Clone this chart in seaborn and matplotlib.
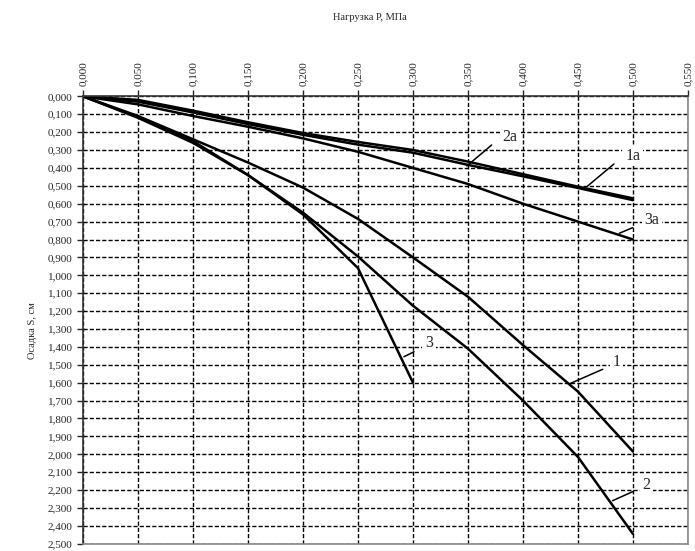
import numpy as np
import pandas as pd
import seaborn as sns
import matplotlib.pyplot as plt
from matplotlib.ticker import FuncFormatter, MultipleLocator

# нагрузка, МПа
p = [0.0, 0.05, 0.10, 0.15, 0.20, 0.25, 0.30, 0.35, 0.40, 0.45, 0.50]
# осадка, см
s1 = [0.0, 0.11, 0.24, 0.37, 0.51, 0.685, 0.90, 1.12, 1.39, 1.65, 1.985]
s2 = [0.0, 0.115, 0.25, 0.44, 0.65, 0.895, 1.17, 1.41, 1.70, 2.015, 2.445]
s3 = [0.0, 0.12, 0.26, 0.44, 0.66, 0.96, 1.60]
s1a = [0.0, 0.02, 0.08, 0.145, 0.205, 0.255, 0.30, 0.365, 0.435, 0.505, 0.57]
s2a = [0.0, 0.03, 0.09, 0.155, 0.215, 0.27, 0.315, 0.383, 0.447, 0.512, 0.58]
s3a = [0.0, 0.045, 0.11, 0.17, 0.235, 0.31, 0.40, 0.49, 0.60, 0.70, 0.80]

series = {"1": s1, "2": s2, "3": s3, "1a": s1a, "2a": s2a, "3a": s3a}
df = pd.concat([pd.DataFrame({"P": p[:len(v)], "S": v, "curve": k})
                for k, v in series.items()], ignore_index=True)

# подписи кривых: (текст, точка на кривой, начало выноски, положение текста)
labels = [
    ("1", (0.442, 1.607), (0.4725, 1.525), (0.485, 1.483)),
    ("2", (0.4815, 2.259), (0.4997, 2.209), (0.5124, 2.171)),
    ("3", (0.2918, 1.455), (0.301, 1.427), (0.3145, 1.38)),
    ("1a", (0.458, 0.505), (0.4827, 0.378), (0.4997, 0.332)),
    ("2a", (0.349, 0.389), (0.3715, 0.272), (0.388, 0.226)),
    ("3a", (0.4876, 0.765), (0.4997, 0.734), (0.517, 0.691)),
]

sns.set_style("white")
plt.rcParams['font.family'] = ['Liberation Serif', 'DejaVu Serif']

fig = plt.figure(figsize=(6.95, 5.51), dpi=100)
ax = fig.add_axes([0.1194, 0.0131, 0.9899 - 0.1194, 0.8252 - 0.0131])

sns.lineplot(data=df, x="P", y="S", units="curve", estimator=None, sort=False,
             color="black", linewidth=1.8, ax=ax)

for txt, pt, start, tpos in labels:
    ax.plot([pt[0], start[0]], [pt[1], start[1]], color="black", lw=1.1)
    ax.text(tpos[0], tpos[1], txt, fontsize=11.5, ha="center", va="center",
            bbox=dict(facecolor="white", edgecolor="none", pad=2))

ax.set_xlim(0, 0.55)
ax.set_ylim(2.5, 0)
ax.xaxis.set_major_locator(MultipleLocator(0.05))
ax.yaxis.set_major_locator(MultipleLocator(0.1))
fmt = FuncFormatter(lambda v, _: f"{v:.3f}".replace(".", ","))
ax.xaxis.set_major_formatter(fmt)
ax.yaxis.set_major_formatter(fmt)
ax.xaxis.tick_top()
ax.tick_params(axis="x", labelrotation=90, labelsize=8, length=4, width=1,
               direction="out", top=True, bottom=False)
ax.tick_params(axis="y", labelsize=8, length=4, width=1, direction="out", left=True)
ax.grid(True, color="black", linestyle=(0, (3, 1.5)), linewidth=1.0)
ax.set_axisbelow(True)
for side, sp in ax.spines.items():
    sp.set_color("#333333" if side in ("left", "top") else "#888888")
    sp.set_linewidth(1.2)
ax.set_xlabel("")
ax.set_ylabel("")

fig.text(0.532, 0.969, "Нагрузка Р, МПа", fontsize=7.5, ha="center", va="center")
fig.text(0.047, 0.40, "Осадка S, см", fontsize=7.5, rotation=90, ha="center", va="center")

fig.savefig("out.png", dpi=100)
